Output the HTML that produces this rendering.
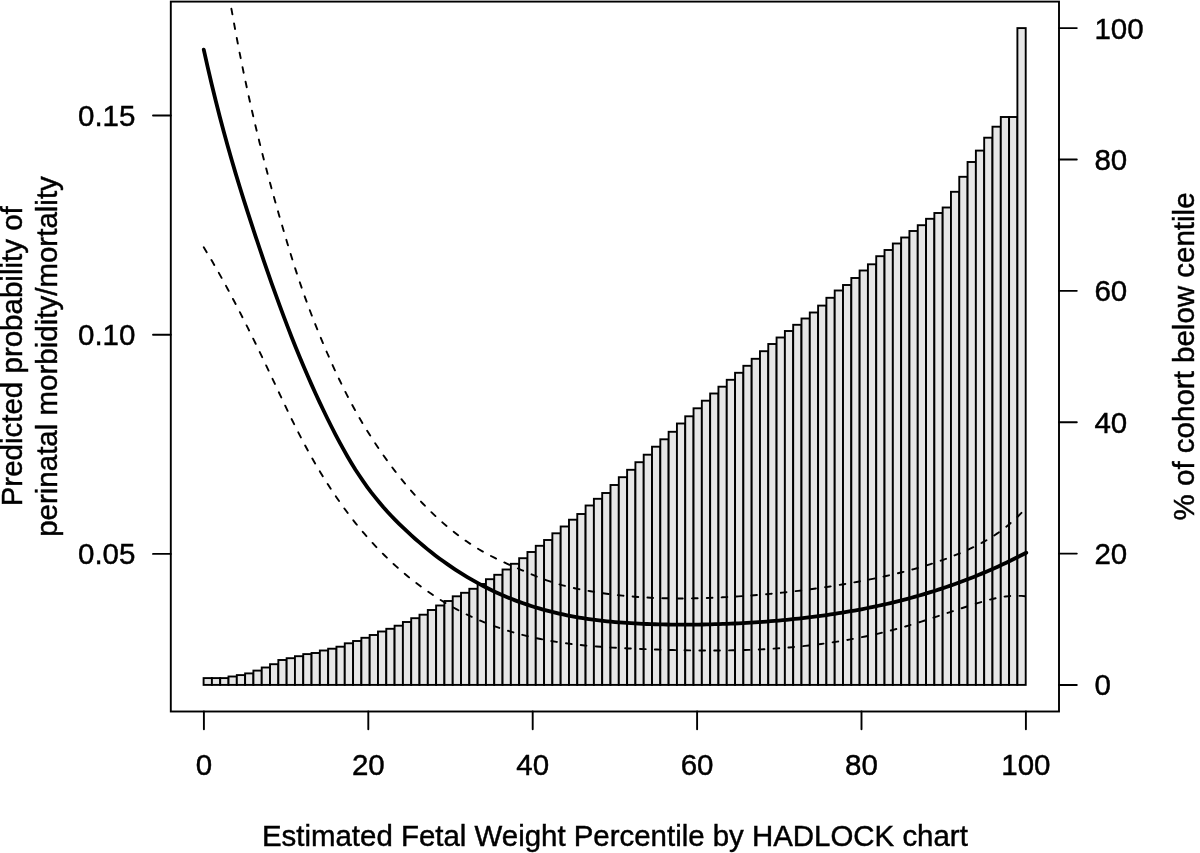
<!DOCTYPE html>
<html lang="en">
<head>
<meta charset="utf-8">
<title>Predicted probability of perinatal morbidity/mortality by Estimated Fetal Weight Percentile (HADLOCK chart)</title>
<style>
  html, body { margin: 0; padding: 0; background: #ffffff; }
  body { width: 1200px; height: 853px; overflow: hidden; }
  svg { display: block; }
  text { font-family: "Liberation Sans", sans-serif; font-size: 29.5px; fill: #000000; stroke: #000000; stroke-width: 0.45px; }
</style>
</head>
<body>
<svg width="1200" height="853" viewBox="0 0 1200 853">
<rect x="0" y="0" width="1200" height="853" fill="#ffffff"/>

<g fill="#e6e6e6" stroke="#000000" stroke-width="1.9" stroke-linejoin="miter">
<rect x="203.60" y="678.10" width="8.304" height="6.80"/>
<rect x="211.90" y="678.10" width="8.304" height="6.80"/>
<rect x="220.21" y="678.10" width="8.304" height="6.80"/>
<rect x="228.51" y="676.50" width="8.304" height="8.40"/>
<rect x="236.82" y="675.10" width="8.304" height="9.80"/>
<rect x="245.12" y="673.40" width="8.304" height="11.50"/>
<rect x="253.42" y="670.60" width="8.304" height="14.30"/>
<rect x="261.73" y="667.50" width="8.304" height="17.40"/>
<rect x="270.03" y="664.20" width="8.304" height="20.70"/>
<rect x="278.34" y="660.00" width="8.304" height="24.90"/>
<rect x="286.64" y="658.20" width="8.304" height="26.70"/>
<rect x="294.94" y="656.20" width="8.304" height="28.70"/>
<rect x="303.25" y="654.10" width="8.304" height="30.80"/>
<rect x="311.55" y="653.00" width="8.304" height="31.90"/>
<rect x="319.86" y="650.50" width="8.304" height="34.40"/>
<rect x="328.16" y="648.70" width="8.304" height="36.20"/>
<rect x="336.46" y="646.70" width="8.304" height="38.20"/>
<rect x="344.77" y="643.30" width="8.304" height="41.60"/>
<rect x="353.07" y="641.00" width="8.304" height="43.90"/>
<rect x="361.38" y="637.80" width="8.304" height="47.10"/>
<rect x="369.68" y="635.00" width="8.304" height="49.90"/>
<rect x="377.98" y="631.50" width="8.304" height="53.40"/>
<rect x="386.29" y="628.80" width="8.304" height="56.10"/>
<rect x="394.59" y="625.70" width="8.304" height="59.20"/>
<rect x="402.90" y="622.00" width="8.304" height="62.90"/>
<rect x="411.20" y="618.20" width="8.304" height="66.70"/>
<rect x="419.51" y="614.70" width="8.304" height="70.20"/>
<rect x="427.81" y="610.00" width="8.304" height="74.90"/>
<rect x="436.11" y="605.50" width="8.304" height="79.40"/>
<rect x="444.42" y="601.00" width="8.304" height="83.90"/>
<rect x="452.72" y="596.30" width="8.304" height="88.60"/>
<rect x="461.03" y="592.80" width="8.304" height="92.10"/>
<rect x="469.33" y="588.80" width="8.304" height="96.10"/>
<rect x="477.63" y="584.00" width="8.304" height="100.90"/>
<rect x="485.94" y="579.20" width="8.304" height="105.70"/>
<rect x="494.24" y="574.80" width="8.304" height="110.10"/>
<rect x="502.55" y="569.50" width="8.304" height="115.40"/>
<rect x="510.85" y="563.80" width="8.304" height="121.10"/>
<rect x="519.15" y="558.20" width="8.304" height="126.70"/>
<rect x="527.46" y="552.00" width="8.304" height="132.90"/>
<rect x="535.76" y="545.80" width="8.304" height="139.10"/>
<rect x="544.07" y="540.00" width="8.304" height="144.90"/>
<rect x="552.37" y="533.30" width="8.304" height="151.60"/>
<rect x="560.67" y="526.50" width="8.304" height="158.40"/>
<rect x="568.98" y="519.70" width="8.304" height="165.20"/>
<rect x="577.28" y="514.00" width="8.304" height="170.90"/>
<rect x="585.59" y="505.50" width="8.304" height="179.40"/>
<rect x="593.89" y="498.80" width="8.304" height="186.10"/>
<rect x="602.19" y="493.00" width="8.304" height="191.90"/>
<rect x="610.50" y="485.00" width="8.304" height="199.90"/>
<rect x="618.80" y="477.20" width="8.304" height="207.70"/>
<rect x="627.11" y="469.80" width="8.304" height="215.10"/>
<rect x="635.41" y="462.20" width="8.304" height="222.70"/>
<rect x="643.71" y="454.70" width="8.304" height="230.20"/>
<rect x="652.02" y="446.70" width="8.304" height="238.20"/>
<rect x="660.32" y="439.30" width="8.304" height="245.60"/>
<rect x="668.63" y="431.80" width="8.304" height="253.10"/>
<rect x="676.93" y="423.50" width="8.304" height="261.40"/>
<rect x="685.23" y="416.30" width="8.304" height="268.60"/>
<rect x="693.54" y="408.30" width="8.304" height="276.60"/>
<rect x="701.84" y="400.70" width="8.304" height="284.20"/>
<rect x="710.15" y="393.50" width="8.304" height="291.40"/>
<rect x="718.45" y="386.70" width="8.304" height="298.20"/>
<rect x="726.75" y="379.80" width="8.304" height="305.10"/>
<rect x="735.06" y="372.80" width="8.304" height="312.10"/>
<rect x="743.36" y="365.80" width="8.304" height="319.10"/>
<rect x="751.67" y="358.80" width="8.304" height="326.10"/>
<rect x="759.97" y="351.20" width="8.304" height="333.70"/>
<rect x="768.27" y="344.00" width="8.304" height="340.90"/>
<rect x="776.58" y="337.50" width="8.304" height="347.40"/>
<rect x="784.88" y="331.00" width="8.304" height="353.90"/>
<rect x="793.19" y="324.80" width="8.304" height="360.10"/>
<rect x="801.49" y="318.50" width="8.304" height="366.40"/>
<rect x="809.79" y="312.50" width="8.304" height="372.40"/>
<rect x="818.10" y="305.60" width="8.304" height="379.30"/>
<rect x="826.40" y="297.80" width="8.304" height="387.10"/>
<rect x="834.71" y="290.50" width="8.304" height="394.40"/>
<rect x="843.01" y="285.00" width="8.304" height="399.90"/>
<rect x="851.32" y="278.00" width="8.304" height="406.90"/>
<rect x="859.62" y="270.50" width="8.304" height="414.40"/>
<rect x="867.92" y="264.30" width="8.304" height="420.60"/>
<rect x="876.23" y="256.20" width="8.304" height="428.70"/>
<rect x="884.53" y="250.00" width="8.304" height="434.90"/>
<rect x="892.84" y="243.50" width="8.304" height="441.40"/>
<rect x="901.14" y="237.50" width="8.304" height="447.40"/>
<rect x="909.44" y="231.00" width="8.304" height="453.90"/>
<rect x="917.75" y="225.20" width="8.304" height="459.70"/>
<rect x="926.05" y="218.80" width="8.304" height="466.10"/>
<rect x="934.36" y="213.00" width="8.304" height="471.90"/>
<rect x="942.66" y="207.50" width="8.304" height="477.40"/>
<rect x="950.96" y="191.80" width="8.304" height="493.10"/>
<rect x="959.27" y="176.80" width="8.304" height="508.10"/>
<rect x="967.57" y="162.00" width="8.304" height="522.90"/>
<rect x="975.88" y="150.60" width="8.304" height="534.30"/>
<rect x="984.18" y="137.70" width="8.304" height="547.20"/>
<rect x="992.48" y="126.70" width="8.304" height="558.20"/>
<rect x="1000.79" y="117.00" width="8.304" height="567.90"/>
<rect x="1009.09" y="117.00" width="8.304" height="567.90"/>
<rect x="1017.40" y="28.10" width="8.304" height="656.80"/>
</g>
<path d="M203.75 49.68 L207.74 67.45 L211.74 84.47 L215.73 100.78 L219.72 116.44 L223.71 131.50 L227.71 146.01 L231.70 160.03 L235.69 173.59 L239.68 186.77 L243.68 199.60 L247.67 212.14 L251.66 224.45 L255.66 236.57 L259.65 248.51 L263.64 260.29 L267.63 271.88 L271.63 283.27 L275.62 294.46 L279.61 305.43 L283.60 316.18 L287.60 326.68 L291.59 336.94 L295.58 346.96 L299.58 356.73 L303.57 366.26 L307.56 375.57 L311.55 384.64 L315.55 393.49 L319.54 402.13 L323.53 410.55 L327.52 418.76 L331.52 426.77 L335.51 434.56 L339.50 442.11 L343.50 449.42 L347.49 456.46 L351.48 463.21 L355.47 469.67 L359.47 475.83 L363.46 481.69 L367.45 487.27 L371.44 492.60 L375.44 497.69 L379.43 502.55 L383.42 507.21 L387.42 511.67 L391.41 515.96 L395.40 520.10 L399.39 524.09 L403.39 527.96 L407.38 531.73 L411.37 535.39 L415.36 538.96 L419.36 542.43 L423.35 545.81 L427.34 549.10 L431.33 552.29 L435.33 555.39 L439.32 558.40 L443.31 561.33 L447.31 564.17 L451.30 566.92 L455.29 569.59 L459.28 572.17 L463.28 574.68 L467.27 577.10 L471.26 579.44 L475.25 581.71 L479.25 583.90 L483.24 586.01 L487.23 588.05 L491.23 590.02 L495.22 591.92 L499.21 593.74 L503.20 595.50 L507.20 597.19 L511.19 598.81 L515.18 600.37 L519.17 601.87 L523.17 603.30 L527.16 604.67 L531.15 605.98 L535.15 607.24 L539.14 608.43 L543.13 609.57 L547.12 610.66 L551.12 611.69 L555.11 612.67 L559.10 613.60 L563.09 614.48 L567.09 615.31 L571.08 616.10 L575.07 616.84 L579.07 617.54 L583.06 618.19 L587.05 618.81 L591.04 619.38 L595.04 619.92 L599.03 620.41 L603.02 620.88 L607.01 621.30 L611.01 621.70 L615.00 622.06 L618.99 622.39 L622.99 622.70 L626.98 622.97 L630.97 623.22 L634.96 623.44 L638.96 623.64 L642.95 623.82 L646.94 623.98 L650.93 624.11 L654.93 624.23 L658.92 624.33 L662.91 624.42 L666.91 624.49 L670.90 624.54 L674.89 624.58 L678.88 624.61 L682.88 624.63 L686.87 624.63 L690.86 624.61 L694.85 624.58 L698.85 624.54 L702.84 624.48 L706.83 624.41 L710.83 624.32 L714.82 624.22 L718.81 624.11 L722.80 623.97 L726.80 623.83 L730.79 623.67 L734.78 623.49 L738.77 623.30 L742.77 623.09 L746.76 622.87 L750.75 622.63 L754.75 622.38 L758.74 622.11 L762.73 621.82 L766.72 621.52 L770.72 621.21 L774.71 620.88 L778.70 620.53 L782.69 620.16 L786.69 619.78 L790.68 619.39 L794.67 618.97 L798.67 618.54 L802.66 618.09 L806.65 617.63 L810.64 617.15 L814.64 616.64 L818.63 616.12 L822.62 615.58 L826.61 615.02 L830.61 614.44 L834.60 613.84 L838.59 613.22 L842.58 612.58 L846.58 611.91 L850.57 611.23 L854.56 610.52 L858.56 609.78 L862.55 609.03 L866.54 608.25 L870.53 607.44 L874.53 606.62 L878.52 605.76 L882.51 604.88 L886.50 603.98 L890.50 603.04 L894.49 602.09 L898.48 601.10 L902.48 600.09 L906.47 599.05 L910.46 597.98 L914.45 596.88 L918.45 595.75 L922.44 594.59 L926.43 593.40 L930.42 592.18 L934.42 590.94 L938.41 589.65 L942.40 588.34 L946.40 587.00 L950.39 585.62 L954.38 584.21 L958.37 582.77 L962.37 581.29 L966.36 579.78 L970.35 578.23 L974.34 576.65 L978.34 575.03 L982.33 573.38 L986.32 571.69 L990.32 569.97 L994.31 568.20 L998.30 566.40 L1002.29 564.56 L1006.29 562.69 L1010.28 560.77 L1014.27 558.82 L1018.26 556.82 L1022.26 554.79 L1026.25 552.71" fill="none" stroke="#000000" stroke-width="3.8" stroke-linecap="round" stroke-linejoin="round"/>
<path d="M231.40 8.80 L235.39 30.82 L239.38 51.63 L243.37 71.36 L247.36 90.11 L251.35 108.02 L255.35 125.18 L259.34 141.66 L263.33 157.51 L267.32 172.81 L271.31 187.60 L275.30 201.95 L279.29 215.93 L283.28 229.58 L287.27 242.96 L291.26 256.01 L295.26 268.65 L299.25 280.77 L303.24 292.33 L307.23 303.37 L311.22 313.97 L315.21 324.18 L319.20 334.07 L323.19 343.67 L327.18 353.00 L331.17 362.03 L335.16 370.79 L339.16 379.26 L343.15 387.45 L347.14 395.35 L351.13 402.97 L355.12 410.31 L359.11 417.36 L363.10 424.13 L367.09 430.65 L371.08 436.98 L375.07 443.11 L379.07 449.06 L383.06 454.83 L387.05 460.42 L391.04 465.84 L395.03 471.10 L399.02 476.20 L403.01 481.15 L407.00 485.95 L410.99 490.61 L414.98 495.13 L418.97 499.50 L422.97 503.73 L426.96 507.83 L430.95 511.79 L434.94 515.62 L438.93 519.31 L442.92 522.87 L446.91 526.31 L450.90 529.61 L454.89 532.78 L458.88 535.83 L462.88 538.76 L466.87 541.56 L470.86 544.24 L474.85 546.80 L478.84 549.25 L482.83 551.57 L486.82 553.79 L490.81 555.91 L494.80 557.95 L498.79 559.90 L502.78 561.78 L506.78 563.61 L510.77 565.39 L514.76 567.14 L518.75 568.86 L522.74 570.56 L526.73 572.25 L530.72 573.95 L534.71 575.65 L538.70 577.30 L542.69 578.87 L546.69 580.34 L550.68 581.71 L554.67 582.99 L558.66 584.18 L562.65 585.30 L566.64 586.34 L570.63 587.31 L574.62 588.22 L578.61 589.06 L582.60 589.86 L586.59 590.61 L590.59 591.31 L594.58 591.98 L598.57 592.61 L602.56 593.20 L606.55 593.76 L610.54 594.28 L614.53 594.77 L618.52 595.22 L622.51 595.65 L626.50 596.03 L630.50 596.39 L634.49 596.72 L638.48 597.01 L642.47 597.28 L646.46 597.51 L650.45 597.72 L654.44 597.90 L658.43 598.05 L662.42 598.18 L666.41 598.28 L670.41 598.36 L674.40 598.41 L678.39 598.43 L682.38 598.43 L686.37 598.41 L690.36 598.37 L694.35 598.31 L698.34 598.23 L702.33 598.12 L706.32 598.00 L710.31 597.86 L714.31 597.70 L718.30 597.52 L722.29 597.32 L726.28 597.11 L730.27 596.89 L734.26 596.64 L738.25 596.39 L742.24 596.12 L746.23 595.84 L750.22 595.54 L754.22 595.23 L758.21 594.91 L762.20 594.57 L766.19 594.22 L770.18 593.85 L774.17 593.47 L778.16 593.07 L782.15 592.66 L786.14 592.24 L790.13 591.79 L794.12 591.34 L798.12 590.86 L802.11 590.37 L806.10 589.87 L810.09 589.34 L814.08 588.80 L818.07 588.25 L822.06 587.67 L826.05 587.08 L830.04 586.47 L834.03 585.85 L838.03 585.20 L842.02 584.54 L846.01 583.86 L850.00 583.16 L853.99 582.45 L857.98 581.71 L861.97 580.95 L865.96 580.18 L869.95 579.39 L873.94 578.57 L877.93 577.74 L881.93 576.89 L885.92 576.01 L889.91 575.11 L893.90 574.19 L897.89 573.24 L901.88 572.26 L905.87 571.24 L909.86 570.20 L913.85 569.11 L917.84 567.99 L921.84 566.83 L925.83 565.62 L929.82 564.37 L933.81 563.07 L937.80 561.72 L941.79 560.32 L945.78 558.87 L949.77 557.36 L953.76 555.79 L957.75 554.16 L961.74 552.47 L965.74 550.72 L969.73 548.89 L973.72 547.00 L977.71 545.01 L981.70 542.91 L985.69 540.69 L989.68 538.33 L993.67 535.83 L997.66 533.15 L1001.65 530.29 L1005.65 527.24 L1009.64 523.97 L1013.63 520.47 L1017.62 516.73 L1021.61 512.73 L1025.60 508.45" fill="none" stroke="#000000" stroke-width="1.9" stroke-dasharray="5.7 9.15" stroke-linecap="round" stroke-linejoin="round"/>
<path d="M203.75 247.27 L207.76 253.85 L211.77 260.60 L215.78 267.52 L219.79 274.60 L223.80 281.82 L227.80 289.19 L231.81 296.70 L235.82 304.33 L239.83 312.08 L243.84 319.94 L247.85 327.91 L251.86 335.98 L255.87 344.14 L259.88 352.38 L263.89 360.69 L267.89 369.08 L271.90 377.53 L275.91 386.03 L279.92 394.55 L283.93 403.04 L287.94 411.45 L291.95 419.72 L295.96 427.81 L299.97 435.69 L303.98 443.33 L307.98 450.75 L311.99 457.94 L316.00 464.92 L320.01 471.68 L324.02 478.24 L328.03 484.59 L332.04 490.75 L336.05 496.71 L340.06 502.49 L344.07 508.08 L348.07 513.50 L352.08 518.74 L356.09 523.81 L360.10 528.72 L364.11 533.48 L368.12 538.07 L372.13 542.52 L376.14 546.83 L380.15 551.00 L384.16 555.03 L388.17 558.93 L392.17 562.71 L396.18 566.37 L400.19 569.91 L404.20 573.35 L408.21 576.68 L412.22 579.90 L416.23 583.03 L420.24 586.05 L424.25 588.98 L428.26 591.81 L432.26 594.55 L436.27 597.20 L440.28 599.75 L444.29 602.22 L448.30 604.60 L452.31 606.89 L456.32 609.10 L460.33 611.22 L464.34 613.27 L468.35 615.24 L472.35 617.13 L476.36 618.94 L480.37 620.68 L484.38 622.34 L488.39 623.94 L492.40 625.47 L496.41 626.93 L500.42 628.32 L504.43 629.65 L508.44 630.92 L512.44 632.13 L516.45 633.28 L520.46 634.37 L524.47 635.41 L528.48 636.39 L532.49 637.32 L536.50 638.20 L540.51 639.04 L544.52 639.82 L548.53 640.56 L552.54 641.26 L556.54 641.91 L560.55 642.52 L564.56 643.10 L568.57 643.64 L572.58 644.14 L576.59 644.61 L580.60 645.05 L584.61 645.46 L588.62 645.83 L592.63 646.19 L596.63 646.51 L600.64 646.82 L604.65 647.10 L608.66 647.36 L612.67 647.61 L616.68 647.83 L620.69 648.05 L624.70 648.24 L628.71 648.43 L632.72 648.61 L636.72 648.78 L640.73 648.94 L644.74 649.10 L648.75 649.25 L652.76 649.40 L656.77 649.53 L660.78 649.67 L664.79 649.79 L668.80 649.91 L672.81 650.02 L676.81 650.11 L680.82 650.20 L684.83 650.28 L688.84 650.35 L692.85 650.41 L696.86 650.46 L700.87 650.50 L704.88 650.52 L708.89 650.54 L712.90 650.54 L716.91 650.52 L720.91 650.49 L724.92 650.45 L728.93 650.39 L732.94 650.32 L736.95 650.23 L740.96 650.13 L744.97 650.01 L748.98 649.87 L752.99 649.72 L757.00 649.55 L761.00 649.36 L765.01 649.15 L769.02 648.92 L773.03 648.67 L777.04 648.40 L781.05 648.11 L785.06 647.80 L789.07 647.47 L793.08 647.12 L797.09 646.74 L801.09 646.34 L805.10 645.92 L809.11 645.47 L813.12 645.00 L817.13 644.51 L821.14 643.99 L825.15 643.44 L829.16 642.87 L833.17 642.27 L837.18 641.65 L841.18 641.00 L845.19 640.32 L849.20 639.61 L853.21 638.87 L857.22 638.11 L861.23 637.31 L865.24 636.49 L869.25 635.63 L873.26 634.74 L877.27 633.83 L881.28 632.88 L885.28 631.89 L889.29 630.88 L893.30 629.83 L897.31 628.75 L901.32 627.63 L905.33 626.48 L909.34 625.30 L913.35 624.08 L917.36 622.84 L921.37 621.57 L925.37 620.28 L929.38 618.98 L933.39 617.66 L937.40 616.33 L941.41 614.99 L945.42 613.65 L949.43 612.31 L953.44 610.97 L957.45 609.64 L961.46 608.32 L965.46 607.01 L969.47 605.71 L973.48 604.44 L977.49 603.19 L981.50 601.97 L985.51 600.82 L989.52 599.73 L993.53 598.74 L997.54 597.86 L1001.55 597.11 L1005.55 596.51 L1009.56 596.07 L1013.57 595.81 L1017.58 595.75 L1021.59 595.92 L1025.60 596.32" fill="none" stroke="#000000" stroke-width="1.9" stroke-dasharray="5.7 9.15" stroke-linecap="round" stroke-linejoin="round"/>
<rect x="170.8" y="1.6" width="888.20" height="709.90" fill="none" stroke="#000000" stroke-width="1.9"/>
<g stroke="#000000" stroke-width="1.9" stroke-linecap="round">
<line x1="203.90" y1="711.5" x2="203.90" y2="729.30"/>
<line x1="368.30" y1="711.5" x2="368.30" y2="729.30"/>
<line x1="532.70" y1="711.5" x2="532.70" y2="729.30"/>
<line x1="697.10" y1="711.5" x2="697.10" y2="729.30"/>
<line x1="861.50" y1="711.5" x2="861.50" y2="729.30"/>
<line x1="1025.90" y1="711.5" x2="1025.90" y2="729.30"/>
<line x1="170.8" y1="553.9" x2="153.00" y2="553.9"/>
<line x1="170.8" y1="334.7" x2="153.00" y2="334.7"/>
<line x1="170.8" y1="115.5" x2="153.00" y2="115.5"/>
<line x1="1059.0" y1="685.00" x2="1076.80" y2="685.00"/>
<line x1="1059.0" y1="553.62" x2="1076.80" y2="553.62"/>
<line x1="1059.0" y1="422.24" x2="1076.80" y2="422.24"/>
<line x1="1059.0" y1="290.86" x2="1076.80" y2="290.86"/>
<line x1="1059.0" y1="159.48" x2="1076.80" y2="159.48"/>
<line x1="1059.0" y1="28.10" x2="1076.80" y2="28.10"/>
</g>
<text x="203.90" y="775.4" text-anchor="middle">0</text>
<text x="368.30" y="775.4" text-anchor="middle">20</text>
<text x="532.70" y="775.4" text-anchor="middle">40</text>
<text x="697.10" y="775.4" text-anchor="middle">60</text>
<text x="861.50" y="775.4" text-anchor="middle">80</text>
<text x="1025.90" y="775.4" text-anchor="middle">100</text>
<text x="135.4" y="564.30" text-anchor="end">0.05</text>
<text x="135.4" y="345.10" text-anchor="end">0.10</text>
<text x="135.4" y="125.90" text-anchor="end">0.15</text>
<text x="1094.4" y="695.40" text-anchor="start">0</text>
<text x="1094.4" y="564.02" text-anchor="start">20</text>
<text x="1094.4" y="432.64" text-anchor="start">40</text>
<text x="1094.4" y="301.26" text-anchor="start">60</text>
<text x="1094.4" y="169.88" text-anchor="start">80</text>
<text x="1094.4" y="38.50" text-anchor="start">100</text>
<text x="614.9" y="846.2" text-anchor="middle" style="font-size:29.43px">Estimated Fetal Weight Percentile by HADLOCK chart</text>
<text transform="translate(21.8 356.3) rotate(-90)" text-anchor="middle">Predicted probability of</text>
<text transform="translate(57.1 356.5) rotate(-90)" text-anchor="middle">perinatal morbidity/mortality</text>
<text transform="translate(1194.2 356.4) rotate(-90)" text-anchor="middle">% of cohort below centile</text>
</svg>
</body>
</html>
